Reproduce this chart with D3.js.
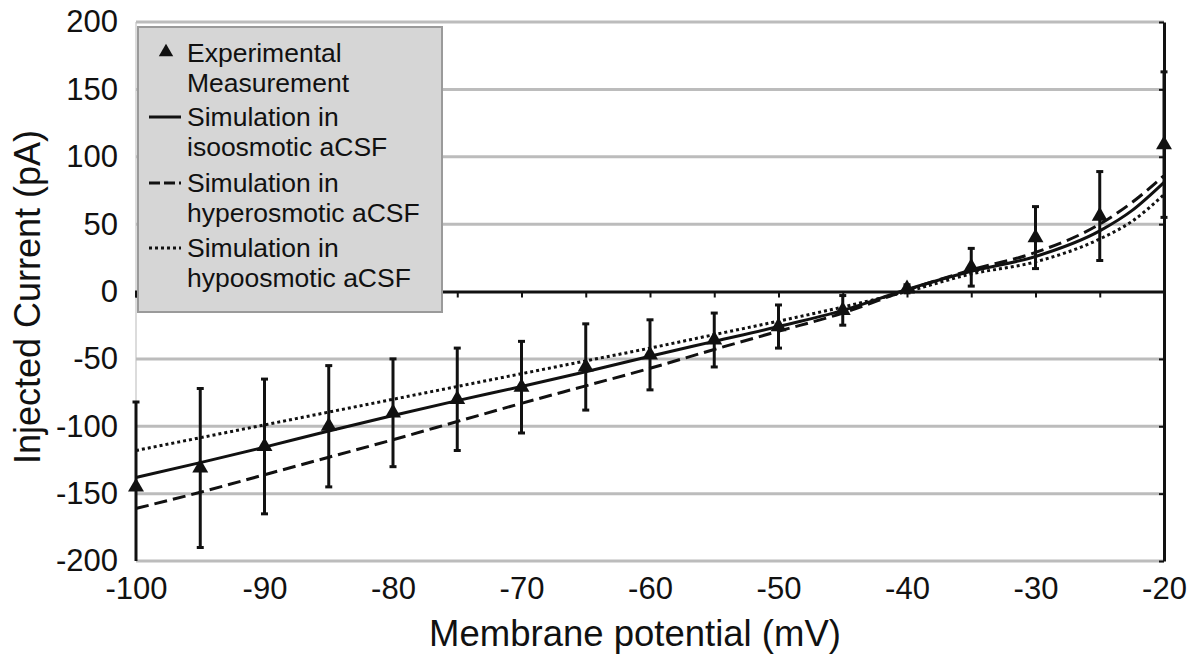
<!DOCTYPE html>
<html>
<head>
<meta charset="utf-8">
<script src="https://cdn.jsdelivr.net/npm/d3@7"></script>
<style>
  body { margin: 0; background: #fff; }
  svg text { font-family: "Liberation Sans", Arial, sans-serif; fill: #111; }
</style>
</head>
<body>
<div id="chart"></div>
<script>
// membrane potential steps (mV)
const expVoltage = [-100, -95, -90, -85, -80, -75, -70, -65, -60, -55, -50, -45, -40, -35, -30, -25, -20]
const expCurrent = [-145, -131, -115, -100, -90, -80, -71, -56, -47, -36, -26, -14, 2, 18, 40, 56, 109]
const expError = [63, 59, 50, 45, 40, 38, 34, 32, 26, 20, 16, 11, 3, 14, 23, 33, 54]

// simulations
const simVoltage = [-100, -95, -90, -85, -80, -75, -70, -65, -60, -55, -50, -45, -40, -35, -30, -25, -22.5, -20]
const simIso = [-138, -127, -115.5, -103.5, -92, -81, -70.5, -59.5, -48, -37, -26, -14, 1.5, 15, 26, 45, 60, 81]
const simHyper = [-161, -149, -136, -123, -110, -96.5, -83, -70, -57, -43, -29.5, -16, 1, 16, 29, 50, 66, 86]
const simHypo = [-118, -108.5, -99, -89.5, -80, -70.5, -61, -51.5, -42, -32, -22, -11.5, 0, 13, 22, 39, 52, 72]

const yTicks = [-200, -150, -100, -50, 0, 50, 100, 150, 200]
const xTicks = [-100, -90, -80, -70, -60, -50, -40, -30, -20]
const xMinorTicks = d3.range(-100, -19, 5)

const legendEntries = [
  { lines: ['Experimental', 'Measurement'], kind: 'marker' },
  { lines: ['Simulation in', 'isoosmotic aCSF'], kind: 'solid' },
  { lines: ['Simulation in', 'hyperosmotic aCSF'], kind: 'dashed' },
  { lines: ['Simulation in', 'hypoosmotic aCSF'], kind: 'dotted' },
]

const size = { width: 1197, height: 656 }
const plot = { left: 136, right: 1164, top: 22, bottom: 561 }

const dashes = { solid: null, dashed: '13,6', dotted: '3,3' }
const plainNumber = d => String(d)   // hyphen minus, like the original

const svg = d3.select('#chart')
  .append('svg')
  .attr('width', size.width)
  .attr('height', size.height)

const x = d3.scaleLinear().domain([-100, -20]).range([plot.left, plot.right])
const y = d3.scaleLinear().domain([-200, 200]).range([plot.bottom, plot.top])

svg.append('defs').append('clipPath').attr('id', 'clip')
  .append('rect')
  .attr('x', plot.left - 10).attr('y', plot.top - 2)
  .attr('width', plot.right - plot.left + 20).attr('height', plot.bottom - plot.top + 2)

// left border of plot area (faint)
svg.append('line')
  .attr('x1', plot.left).attr('x2', plot.left)
  .attr('y1', plot.top).attr('y2', plot.bottom)
  .attr('stroke', '#d0d0d0').attr('stroke-width', 1.5)

// gridlines
svg.append('g')
  .selectAll('line')
  .data(yTicks.filter(d => d !== 0))
  .enter()
  .append('line')
  .attr('x1', plot.left).attr('x2', plot.right)
  .attr('y1', d => y(d)).attr('y2', d => y(d))
  .attr('stroke', '#bcbcbc')
  .attr('stroke-width', 3)

// y tick labels
svg.append('g')
  .attr('transform', `translate(${plot.left},0)`)
  .call(d3.axisLeft(y).tickValues(yTicks).tickSize(0).tickPadding(18).tickFormat(plainNumber))
  .call(g => g.select('.domain').remove())
  .selectAll('text')
  .attr('font-size', 31)
  .attr('font-family', '"Liberation Sans", Arial, sans-serif')

// x tick labels
svg.append('g')
  .attr('transform', `translate(0,${plot.bottom})`)
  .call(d3.axisBottom(x).tickValues(xTicks).tickSize(0).tickPadding(16).tickFormat(plainNumber))
  .call(g => g.select('.domain').remove())
  .selectAll('text')
  .attr('font-size', 31)
  .attr('font-family', '"Liberation Sans", Arial, sans-serif')

// zero line with minor ticks
svg.append('g')
  .attr('transform', `translate(0,${y(0)})`)
  .call(d3.axisBottom(x).tickValues(xMinorTicks).tickSize(6).tickFormat(''))
  .call(g => g.select('.domain').attr('stroke', '#111').attr('stroke-width', 3))
  .call(g => g.selectAll('.tick line').attr('stroke', '#111').attr('stroke-width', 2))

// right vertical line
svg.append('g')
  .attr('transform', `translate(${plot.right},0)`)
  .call(d3.axisLeft(y).tickValues(yTicks).tickSize(5).tickSizeOuter(0).tickFormat(''))
  .call(g => g.select('.domain').attr('stroke', '#111').attr('stroke-width', 3))
  .call(g => g.selectAll('.tick line').attr('stroke', '#111').attr('stroke-width', 2))

const body = svg.append('g').attr('clip-path', 'url(#clip)')

const line = d3.line()
  .x(d => x(d[0]))
  .y(d => y(d[1]))
  .curve(d3.curveMonotoneX)

const series = [
  { values: simIso, kind: 'solid' },
  { values: simHyper, kind: 'dashed' },
  { values: simHypo, kind: 'dotted' },
]

series.forEach(s => {
  body.append('path')
    .datum(simVoltage.map((v, i) => [v, s.values[i]]))
    .attr('d', line)
    .attr('fill', 'none')
    .attr('stroke', '#111')
    .attr('stroke-width', 3)
    .attr('stroke-dasharray', dashes[s.kind])
})

const expData = expVoltage.map((v, i) => ({ v, c: expCurrent[i], e: expError[i] }))

// error bars
const bars = body.append('g').selectAll('g')
  .data(expData)
  .enter()
  .append('g')

bars.append('line')
  .attr('x1', d => x(d.v)).attr('x2', d => x(d.v))
  .attr('y1', d => y(d.c + d.e)).attr('y2', d => y(d.c - d.e))
  .attr('stroke', '#111').attr('stroke-width', 3)

bars.selectAll('.cap')
  .data(d => [[d.v, d.c + d.e], [d.v, d.c - d.e]])
  .enter()
  .append('line')
  .attr('class', 'cap')
  .attr('x1', d => x(d[0]) - 3.5).attr('x2', d => x(d[0]) + 3.5)
  .attr('y1', d => y(d[1])).attr('y2', d => y(d[1]))
  .attr('stroke', '#111').attr('stroke-width', 3)

const tri = d3.symbol().type(d3.symbolTriangle).size(110)

body.append('g').selectAll('path')
  .data(expData)
  .enter()
  .append('path')
  .attr('d', tri)
  .attr('transform', d => `translate(${x(d.v)},${y(d.c)})`)
  .attr('fill', '#111')

// legend
const legend = svg.append('g')
legend.append('rect')
  .attr('x', 138).attr('y', 27)
  .attr('width', 304).attr('height', 285)
  .attr('fill', '#d6d6d6')
  .attr('stroke', '#9a9a9a')
  .attr('stroke-width', 2)

const baselines = [62, 126, 192, 257]
legendEntries.forEach((entry, i) => {
  const base = baselines[i]
  entry.lines.forEach((t, j) => {
    legend.append('text')
      .attr('x', 187)
      .attr('y', base + j * 30)
      .attr('font-size', 26.5)
      .text(t)
  })
  if (entry.kind === 'marker') {
    legend.append('path')
      .attr('d', d3.symbol().type(d3.symbolTriangle).size(90))
      .attr('transform', `translate(166,${base - 10})`)
      .attr('fill', '#111')
  } else {
    legend.append('line')
      .attr('x1', 149).attr('x2', 181)
      .attr('y1', base - 9).attr('y2', base - 9)
      .attr('stroke', '#111')
      .attr('stroke-width', 3)
      .attr('stroke-dasharray', entry.kind === 'dashed' ? '11,4' : dashes[entry.kind])
  }
})

// axis titles
svg.append('text')
  .attr('transform', `translate(40,297) rotate(-90)`)
  .attr('text-anchor', 'middle')
  .attr('font-size', 36)
  .text('Injected Current (pA)')

svg.append('text')
  .attr('x', 635)
  .attr('y', 646)
  .attr('text-anchor', 'middle')
  .attr('font-size', 36.5)
  .text('Membrane potential (mV)')
</script>
</body>
</html>
